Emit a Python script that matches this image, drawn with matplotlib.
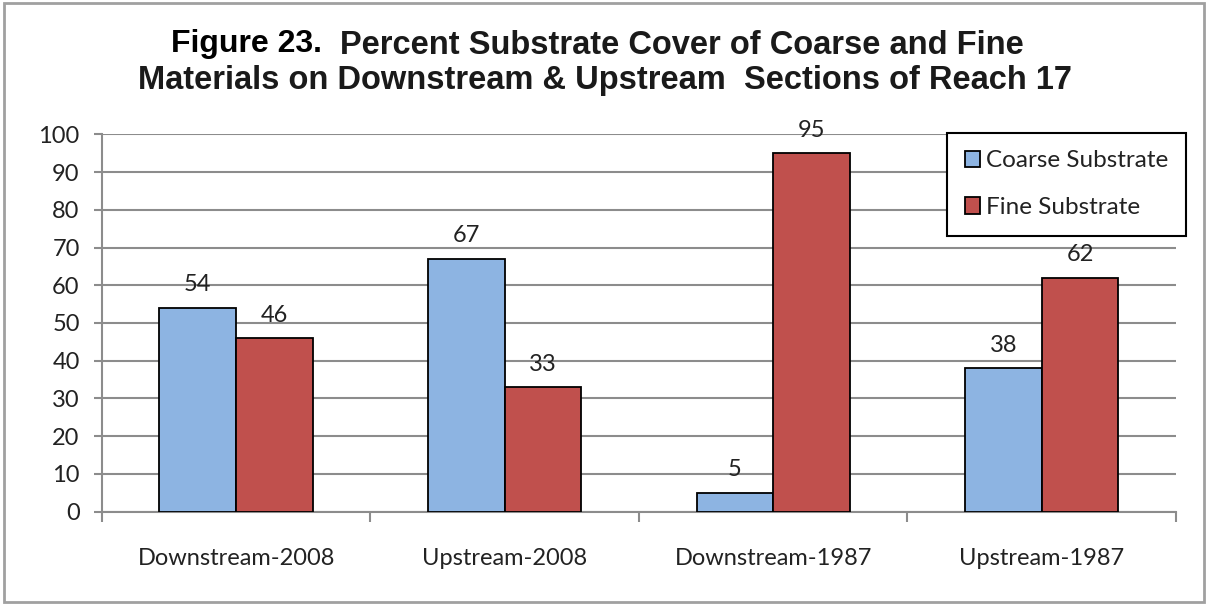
import matplotlib.pyplot as plt
import numpy as np
from matplotlib.patches import Rectangle

sections = ["Downstream-2008", "Upstream-2008", "Downstream-1987", "Upstream-1987"]
coarse = [54, 67, 5, 38]
fine = [46, 33, 95, 62]
series_names = ["Coarse Substrate", "Fine Substrate"]

blue = "#8DB4E2"
red = "#C0504D"
grid_gray = "#8C8C8C"
text_col = "#222222"
fs = 17

plt.rcParams["font.family"] = ["Lato", "DejaVu Sans"]

fig = plt.figure(figsize=(12.08, 6.04), dpi=100)
ax = fig.add_axes([0.0844, 0.1528, 0.9735 - 0.0844, 0.7777 - 0.1528])

# outer frame of the chart
fig.patches.append(Rectangle((0.0035, 0.003), 0.9935, 0.992, transform=fig.transFigure,
                             fill=False, edgecolor="#A0A0A0", linewidth=2))

x = np.arange(len(sections))
w = 1 / 3.5
b1 = ax.bar(x - w / 2, coarse, w, color=blue, edgecolor="black", linewidth=1.3,
            label=series_names[0], zorder=3)
b2 = ax.bar(x + w / 2, fine, w, color=red, edgecolor="black", linewidth=1.3,
            label=series_names[1], zorder=3)

for bars, vals in ((b1, coarse), (b2, fine)):
    for r, v in zip(bars, vals):
        ax.annotate(str(v), (r.get_x() + r.get_width() / 2, v), xytext=(0, 9),
                    textcoords="offset points", ha="center", va="bottom",
                    fontsize=fs, color=text_col)

ax.set_xlim(-0.5, len(sections) - 0.5)
ax.set_ylim(0, 100)
ax.set_yticks(range(0, 101, 10))
ax.yaxis.grid(True, color=grid_gray, linewidth=1.5, zorder=0)
ax.set_axisbelow(True)

# category boundaries carry the tick marks, names sit at the centers
ax.set_xticks(np.arange(-0.5, len(sections), 1))
ax.set_xticklabels([])
ax.set_xticks(x, minor=True)
ax.set_xticklabels(sections, minor=True, fontsize=fs, color=text_col)
ax.tick_params(axis="x", which="major", length=7, width=1.5, color=grid_gray, direction="out")
ax.tick_params(axis="x", which="minor", length=0, pad=26)
ax.tick_params(axis="y", length=6, width=1.5, color=grid_gray, labelsize=fs,
               labelcolor=text_col, pad=10)

for s in ("top", "right"):
    ax.spines[s].set_visible(False)
for s in ("left", "bottom"):
    ax.spines[s].set_color(grid_gray)
    ax.spines[s].set_linewidth(1.5)

leg = ax.legend(loc="upper left", bbox_to_anchor=(0.7868, 1.0034), fontsize=17.5,
                frameon=True, fancybox=False, edgecolor="black", framealpha=1,
                handlelength=0.65, handleheight=0.65, handletextpad=0.25,
                labelspacing=1.05, borderpad=0.72, borderaxespad=0)
leg.get_frame().set_linewidth(1.5)
for t in leg.get_texts():
    t.set_color(text_col)

title_font = ["Liberation Sans", "DejaVu Sans"]
fig.text(322 / 1208, 1 - 44 / 604, "Figure 23.", fontsize=23, fontweight="bold",
         family=title_font, color="black", ha="right", va="center")
fig.text(340 / 1208, 1 - 46 / 604, "Percent Substrate Cover of Coarse and Fine", fontsize=23.5,
         fontweight="bold", family=title_font, color="#1A1A1A", ha="left", va="center")
fig.text(605 / 1208, 1 - 80 / 604, "Materials on Downstream & Upstream  Sections of Reach 17",
         fontsize=23.5, fontweight="bold", family=title_font, color="#1A1A1A",
         ha="center", va="center")

fig.savefig("out.png", dpi=100)
